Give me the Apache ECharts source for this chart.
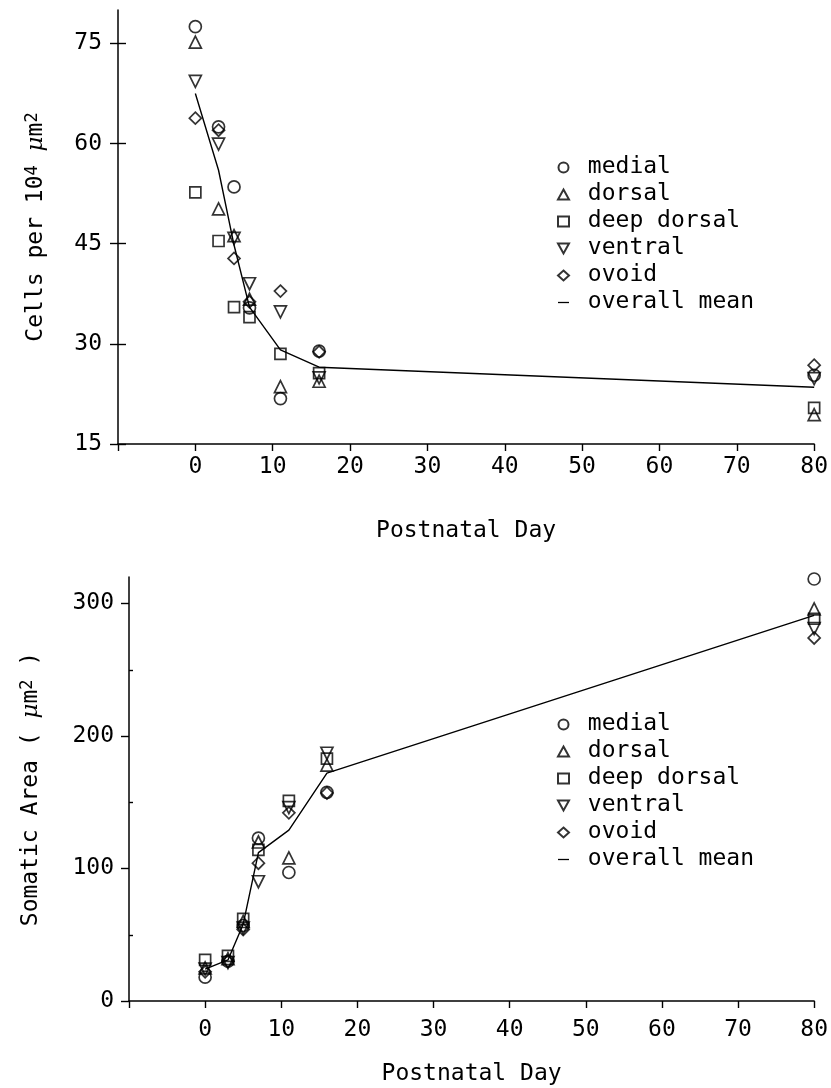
<!DOCTYPE html>
<html>
<head>
<meta charset="utf-8">
<script src="https://cdn.jsdelivr.net/npm/echarts@6/dist/echarts.min.js"></script>
<style>
  html, body { margin: 0; padding: 0; background: #fff; }
  #chart { width: 831px; height: 1088px; }
</style>
</head>
<body>
<div id="chart"></div>
<script>
// Postnatal days sampled
const days = [0, 3, 5, 7, 11, 16, 80];
const regionNames = ['medial', 'dorsal', 'deep dorsal', 'ventral', 'ovoid'];
const meanName = 'overall mean';

// Cell density (cells per 10^4 um^2) by region
const densityMedial     = [77.5, 62.5, 53.5, 35.4, 21.8, 28.9, 25.3];
const densityDorsal     = [75.2, 50.2, 46.2, 36.7, 23.6, 24.4, 19.4];
const densityDeepDorsal = [52.7, 45.4, 35.5, 34.0, 28.5, 25.6, 20.4];
const densityVentral    = [69.3, 59.9, 45.8, 39.0, 34.8, 24.9, 24.8];
const densityOvoid      = [63.8, 62.0, 42.8, 36.3, 37.9, 28.8, 26.8];
const densityMean       = [67.5, 56.0, 44.8, 35.5, 29.1, 26.5, 23.5];

// Somatic area (um^2) by region
const areaMedial     = [18, 30, 57, 123, 97, 157.5, 318.5];
const areaDorsal     = [25, 32, 60, 120, 108, 178, 296];
const areaDeepDorsal = [31, 34, 62, 114, 151, 183, 288.5];
const areaVentral    = [24, 29, 55, 90, 146, 187, 281];
const areaOvoid      = [22, 30, 54, 104, 142, 157, 274];
const areaMean       = [24, 31, 58, 112, 129, 172, 291];

// Axis ticks
const dayTickLabels = [0, 10, 20, 30, 40, 50, 60, 70, 80];
const dayTickMarks = [-10, 0, 10, 20, 30, 40, 50, 60, 70, 80];
const densityTicks = [15, 30, 45, 60, 75];
const areaTicks = [0, 100, 200, 300];
const areaMinorTicks = [50, 150, 250];

const FONT = 'DejaVu Sans Mono';
const INK = '#000';
const FS = 23;

const regionSymbols = ['circle', 'triangle', 'rect', 'path://M0,0 L10,0 L5,9 Z', 'diamond'];
const regionSizes = [12, 12, 11, 12, 12];
// thin dash centred in a square box, used as the legend mark of the mean line
const dashIcon = 'path://M0,0 M0,4.3 L12,4.3 L12,5.7 L0,5.7 Z M12,10';

function pairs(ys) { return days.map((d, i) => [d, ys[i]]); }

function panelSeries(gridIdx, lists, meanList) {
  const out = lists.map((ys, k) => ({
    name: regionNames[k],
    type: 'scatter',
    xAxisIndex: gridIdx,
    yAxisIndex: gridIdx * 2,
    symbol: regionSymbols[k],
    symbolSize: regionSizes[k],
    itemStyle: { color: 'rgba(255,255,255,0)', borderColor: INK, borderWidth: 1.7 },
    data: pairs(ys),
    z: 3
  }));
  out.push({
    name: meanName,
    type: 'line',
    xAxisIndex: gridIdx,
    yAxisIndex: gridIdx * 2,
    symbol: 'none',
    lineStyle: { color: INK, width: 1.4 },
    itemStyle: { color: INK },
    data: pairs(meanList),
    z: 2
  });
  return out;
}

function xAxisFor(gridIdx, labelMargin, nameGap) {
  return {
    type: 'value', gridIndex: gridIdx, min: -10, max: 80,
    name: 'Postnatal Day', nameLocation: 'middle', nameGap: nameGap,
    nameTextStyle: { fontFamily: FONT, fontSize: FS, color: INK },
    axisLine: { onZero: false, lineStyle: { color: INK, width: 1.5 } },
    axisTick: { length: 7, lineStyle: { color: INK, width: 1.4 }, customValues: dayTickMarks },
    axisLabel: { fontFamily: FONT, fontSize: FS, color: INK, margin: labelMargin, customValues: dayTickLabels },
    splitLine: { show: false }
  };
}

function superRich() {
  return {
    t: { fontFamily: FONT, fontSize: FS, color: INK, lineHeight: 24, verticalAlign: 'bottom' },
    mu: { fontFamily: 'DejaVu Serif', fontStyle: 'italic', fontSize: FS, color: INK, lineHeight: 24, verticalAlign: 'bottom' },
    s: { fontFamily: FONT, fontSize: 17, color: INK, lineHeight: 17, verticalAlign: 'top', padding: [0, 0, 16, 0] }
  };
}

const legendBase = {
  orient: 'vertical',
  left: 552,
  itemWidth: 11,
  itemHeight: 10,
  itemGap: 4,
  selectedMode: false,
  formatter: n => ' ' + n,
  textStyle: { fontFamily: FONT, fontSize: FS, color: INK, lineHeight: 23 },
  data: regionNames.concat([{ name: meanName, icon: dashIcon, itemStyle: { color: INK, borderWidth: 0 } }])
};

function yAxisMain(gridIdx, min, max, name, nameGap, ticks, labelMargin) {
  return {
    type: 'value', gridIndex: gridIdx, min: min, max: max,
    name: name, nameLocation: 'middle', nameGap: nameGap,
    nameTextStyle: { rich: superRich() },
    axisLine: { onZero: false, lineStyle: { color: INK, width: 1.5 } },
    axisTick: { length: 8, lineStyle: { color: INK, width: 1.4 }, customValues: ticks },
    axisLabel: { fontFamily: FONT, fontSize: FS, color: INK, margin: labelMargin, customValues: ticks },
    splitLine: { show: false }
  };
}

function yAxisInnerTicks(gridIdx, min, max, ticks, len) {
  return {
    type: 'value', gridIndex: gridIdx, min: min, max: max, position: 'left',
    axisLine: { show: false, onZero: false },
    axisTick: { inside: true, length: len, lineStyle: { color: INK, width: 1.4 }, customValues: ticks },
    axisLabel: { show: false },
    splitLine: { show: false }
  };
}

const option = {
  animation: false,
  backgroundColor: '#fff',
  grid: [
    { left: 118, right: 13, top: 10, bottom: 644 },
    { left: 129, right: 12, top: 577, bottom: 87 }
  ],
  legend: [
    Object.assign({}, legendBase, { top: 151 }),
    Object.assign({}, legendBase, { top: 708 })
  ],
  xAxis: [xAxisFor(0, 12, 76), xAxisFor(1, 18, 62)],
  yAxis: [
    yAxisMain(0, 15, 80, '{t|Cells per 10}{s|4}{t| }{mu|μ}{t|m}{s|2}', 70, densityTicks, 16),
    yAxisInnerTicks(0, 15, 80, densityTicks, 8),
    yAxisMain(1, 0, 320, '{t|Somatic Area ( }{mu|μ}{t|m}{s|2}{t| )}', 86, areaTicks, 15),
    yAxisInnerTicks(1, 0, 320, areaMinorTicks, 4)
  ],
  series: []
    .concat(panelSeries(0,
      [densityMedial, densityDorsal, densityDeepDorsal, densityVentral, densityOvoid], densityMean))
    .concat(panelSeries(1,
      [areaMedial, areaDorsal, areaDeepDorsal, areaVentral, areaOvoid], areaMean))
};

const chart = echarts.init(document.getElementById('chart'), null, { renderer: 'canvas' });
chart.setOption(option);
</script>
</body>
</html>
